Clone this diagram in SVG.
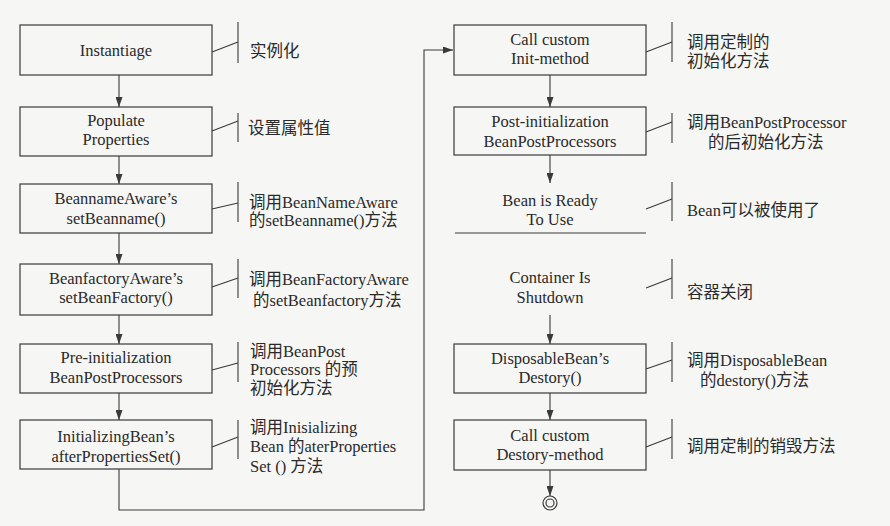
<svg xmlns="http://www.w3.org/2000/svg" width="890" height="526" viewBox="0 0 890 526">
<defs>
<style>
.box{fill:none;stroke:#3a3a3a;stroke-width:1.2}
.ln{fill:none;stroke:#3a3a3a;stroke-width:1.1}
.t{font-family:'Liberation Serif','Noto Sans CJK SC',serif;font-size:16.5px;fill:#2a2a2a}
.c{text-anchor:middle}
</style>
<marker id="ah" viewBox="0 0 10 7" refX="10" refY="3.5" markerWidth="10" markerHeight="7" markerUnits="userSpaceOnUse" orient="auto">
<path d="M0,0 L10,3.5 L0,7 Z" fill="#3a3a3a"/>
</marker>
</defs>
<rect width="890" height="526" fill="#f6f6f4"/>

<g id="connectors">
<line class="ln" x1="119" y1="75" x2="119" y2="107" marker-end="url(#ah)"/>
<line class="ln" x1="119" y1="156" x2="119" y2="184" marker-end="url(#ah)"/>
<line class="ln" x1="119" y1="233" x2="119" y2="264" marker-end="url(#ah)"/>
<line class="ln" x1="119" y1="315" x2="119" y2="344" marker-end="url(#ah)"/>
<line class="ln" x1="119" y1="393" x2="119" y2="420" marker-end="url(#ah)"/>
<polyline class="ln" points="119,469 119,510 424,510 424,50 453,50" marker-end="url(#ah)"/>
<line class="ln" x1="550" y1="75" x2="550" y2="107" marker-end="url(#ah)"/>
<line class="ln" x1="550" y1="155" x2="550" y2="183" marker-end="url(#ah)"/>
<line class="ln" x1="550" y1="315" x2="550" y2="344" marker-end="url(#ah)"/>
<line class="ln" x1="550" y1="393" x2="550" y2="420" marker-end="url(#ah)"/>
<line class="ln" x1="550" y1="470" x2="550" y2="496" marker-end="url(#ah)"/>
</g>

<g id="instantiate">
<rect class="box" x="20" y="25" width="192" height="50"/>
<text class="t c" x="116" y="56">Instantiage</text>
<polyline class="ln" points="212,52 238,42"/><line class="ln" x1="238" y1="22" x2="238" y2="63"/>
<text class="t" x="250" y="57">实例化</text>
</g>

<g id="populate">
<rect class="box" x="20" y="107" width="192" height="49"/>
<text class="t c" x="116" y="126">Populate</text>
<text class="t c" x="116" y="145">Properties</text>
<polyline class="ln" points="212,131 238,121"/><line class="ln" x1="238" y1="113" x2="238" y2="142"/>
<text class="t" x="248" y="134">设置属性值</text>
</g>

<g id="beannameaware">
<rect class="box" x="20" y="184" width="192" height="49"/>
<text class="t c" x="116" y="204">BeannameAware’s</text>
<text class="t c" x="116" y="224">setBeanname()</text>
<polyline class="ln" points="212,209 238,203"/><line class="ln" x1="238" y1="182" x2="238" y2="222"/>
<text class="t" x="249" y="208">调用BeanNameAware</text>
<text class="t" x="249" y="226">的setBeanname()方法</text>
</g>

<g id="beanfactoryaware">
<rect class="box" x="20" y="264" width="192" height="51"/>
<text class="t c" x="116" y="284">BeanfactoryAware’s</text>
<text class="t c" x="116" y="303">setBeanFactory()</text>
<polyline class="ln" points="212,287 238,278"/><line class="ln" x1="238" y1="259" x2="238" y2="298"/>
<text class="t" x="249" y="285">调用BeanFactoryAware</text>
<text class="t" x="253" y="306">的setBeanfactory方法</text>
</g>

<g id="preinit">
<rect class="box" x="20" y="344" width="192" height="49"/>
<text class="t c" x="116" y="363">Pre-initialization</text>
<text class="t c" x="116" y="383">BeanPostProcessors</text>
<polyline class="ln" points="212,370 238,363"/><line class="ln" x1="238" y1="342" x2="238" y2="382"/>
<text class="t" x="250" y="357">调用BeanPost</text>
<text class="t" x="250" y="375">Processors 的预</text>
<text class="t" x="250" y="394">初始化方法</text>
</g>

<g id="initializingbean">
<rect class="box" x="20" y="420" width="192" height="49"/>
<text class="t c" x="116" y="442">InitializingBean’s</text>
<text class="t c" x="116" y="462">afterPropertiesSet()</text>
<polyline class="ln" points="212,447 238,437"/><line class="ln" x1="238" y1="420" x2="238" y2="459"/>
<text class="t" x="250" y="433">调用Inisializing</text>
<text class="t" x="250" y="452">Bean 的aterProperties</text>
<text class="t" x="250" y="472">Set () 方法</text>
</g>

<g id="initmethod">
<rect class="box" x="454" y="25" width="192" height="50"/>
<text class="t c" x="550" y="45">Call custom</text>
<text class="t c" x="550" y="64">Init-method</text>
<polyline class="ln" points="646,52 672,42"/><line class="ln" x1="672" y1="22" x2="672" y2="62"/>
<text class="t" x="687" y="48">调用定制的</text>
<text class="t" x="687" y="67">初始化方法</text>
</g>

<g id="postinit">
<rect class="box" x="454" y="107" width="192" height="48"/>
<text class="t c" x="550" y="127">Post-initialization</text>
<text class="t c" x="550" y="147">BeanPostProcessors</text>
<polyline class="ln" points="646,132 672,122"/><line class="ln" x1="672" y1="113" x2="672" y2="143"/>
<text class="t" x="687" y="128">调用BeanPostProcessor</text>
<text class="t" x="708" y="148">的后初始化方法</text>
</g>

<g id="ready">
<text class="t c" x="550" y="206">Bean is Ready</text>
<text class="t c" x="550" y="225">To Use</text>
<line class="ln" x1="455" y1="233" x2="646" y2="233"/>
<polyline class="ln" points="646,209 672,199"/><line class="ln" x1="672" y1="182" x2="672" y2="221"/>
<text class="t" x="687" y="216">Bean可以被使用了</text>
</g>

<g id="shutdown">
<text class="t c" x="550" y="283">Container Is</text>
<text class="t c" x="550" y="303">Shutdown</text>
<polyline class="ln" points="646,288 672,278"/><line class="ln" x1="672" y1="259" x2="672" y2="299"/>
<text class="t" x="687" y="298">容器关闭</text>
</g>

<g id="disposable">
<rect class="box" x="454" y="344" width="192" height="49"/>
<text class="t c" x="550" y="364">DisposableBean’s</text>
<text class="t c" x="550" y="383">Destory()</text>
<polyline class="ln" points="646,369 672,360"/><line class="ln" x1="672" y1="342" x2="672" y2="382"/>
<text class="t" x="687" y="366">调用DisposableBean</text>
<text class="t" x="700" y="386">的destory()方法</text>
</g>

<g id="destroymethod">
<rect class="box" x="454" y="420" width="192" height="50"/>
<text class="t c" x="550" y="441">Call custom</text>
<text class="t c" x="550" y="460">Destory-method</text>
<polyline class="ln" points="646,447 672,437"/><line class="ln" x1="672" y1="419" x2="672" y2="459"/>
<text class="t" x="687" y="452">调用定制的销毁方法</text>
</g>

<g id="end">
<circle cx="550" cy="503" r="7" fill="none" stroke="#3a3a3a" stroke-width="1.2"/>
<circle cx="550" cy="503" r="4" fill="none" stroke="#3a3a3a" stroke-width="1.2"/>
</g>
</svg>
